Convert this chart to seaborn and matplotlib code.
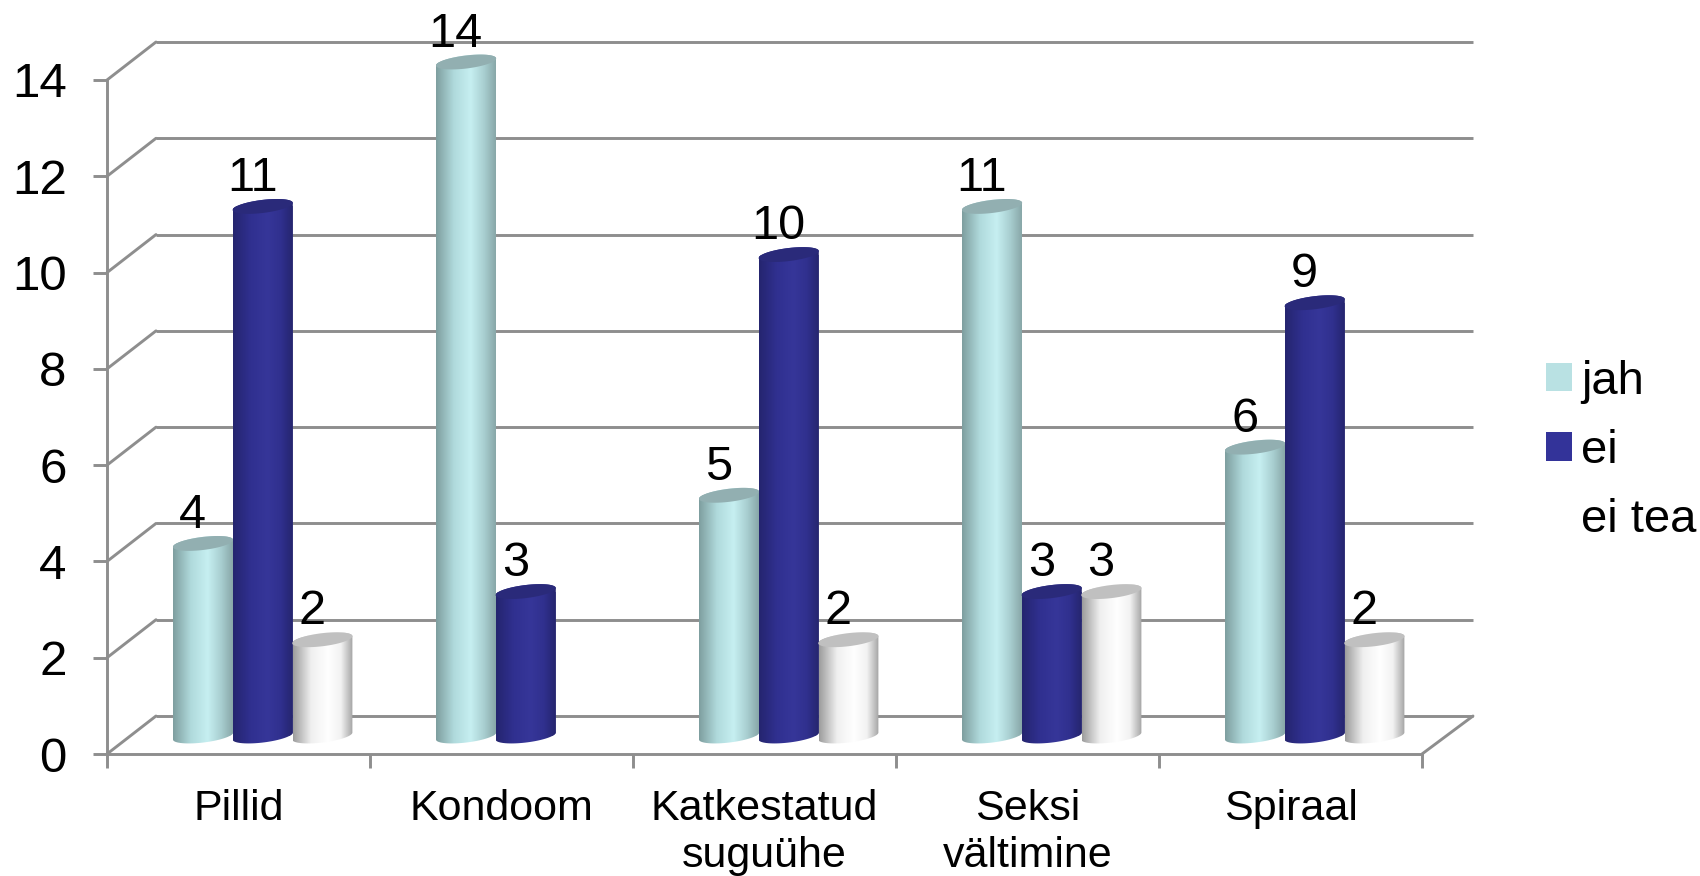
import numpy as np
import pandas as pd
import seaborn as sns
import matplotlib.pyplot as plt
from matplotlib.colors import LinearSegmentedColormap
from matplotlib.patches import Patch, Polygon
from matplotlib.path import Path
from matplotlib.transforms import IdentityTransform

# data
categories = ["Pillid", "Kondoom", "Katkestatud\nsuguühe", "Seksi\nvältimine", "Spiraal"]
series = ["jah", "ei", "ei tea"]
jah = [4, 14, 5, 11, 6]
ei = [11, 3, 10, 3, 9]
ei_tea = [2, np.nan, 2, 3, 2]
y_ticks = [0, 2, 4, 6, 8, 10, 12, 14]

# colours per series: edge, mid, light, top face
legend_colors = ["#B9E1E3", "#333399", "#FFFFFF"]
shades = [["#7E9E9F", "#B0DADC", "#C6EFF1", "#A9CFD1", "#88A7A8"],
          ["#25256F", "#303090", "#363699", "#30308E", "#25256E"],
          ["#9C9C9C", "#EFEFEF", "#FFFFFF", "#F2F2F2", "#A4A4A4"]]
top_colors = ["#92AFB1", "#2A2A7A", "#C0C0C0"]
grid_color = "#8E8E8E"

sns.set_theme(style="white")
plt.rcParams["font.family"] = ["Liberation Sans", "DejaVu Sans"]

df = pd.DataFrame({"cat": categories, "jah": jah, "ei": ei, "ei tea": ei_tea})
long_df = df.melt(id_vars="cat", var_name="vastus", value_name="arv")

fig = plt.figure(figsize=(17, 8.76), dpi=100)
# axes box in pixels: 107..1422 across, top of figure..754 down (images get cropped to the axes)
ax = fig.add_axes([107 / 1700, 1 - 754 / 876, 1315 / 1700, 754 / 876])

sns.barplot(data=long_df, x="cat", y="arv", hue="vastus", order=categories, hue_order=series,
            palette=legend_colors, width=0.68, gap=0, errorbar=None, legend=False, ax=ax,
            linewidth=0, zorder=3)

# 3D look: floor offset in value units, wall offset in category units
px_y = 674 / 14
front = -18 / px_y
back = 20 / px_y
shift = 49 / 263
xlim = (-0.592, 4.408)
ylim = (front, front + 754 / px_y)
ax.set_xlim(xlim)
ax.set_ylim(ylim)

# walls
grid_end = xlim[1] + 51 / 263
for v in y_ticks:
    ax.plot([xlim[0] + shift, grid_end], [v + back, v + back], color=grid_color, lw=2.1,
            clip_on=False, zorder=1, solid_capstyle="butt")
    ax.plot([xlim[0], xlim[0] + shift], [v + front, v + back], color=grid_color, lw=2.1,
            clip_on=False, zorder=1)
ax.plot([xlim[1], grid_end], [front, back], color=grid_color, lw=2.1, clip_on=False, zorder=1)

# axes
sns.despine(ax=ax)
for side in ["left", "bottom"]:
    ax.spines[side].set_color(grid_color)
    ax.spines[side].set_linewidth(2.1)
    ax.spines[side].set_zorder(2)
ax.spines["left"].set_bounds(front, front + 14)
ax.set_yticks([v + front for v in y_ticks])
ax.set_yticklabels([str(v) for v in y_ticks], fontsize=35.5, color="black")
ax.tick_params(axis="y", length=10, width=2.1, color=grid_color, pad=19, left=True)
ax.set_xticks([xlim[0] + k for k in range(6)])
ax.set_xticklabels([""] * 6)
ax.set_xticks([xlim[0] + k + 0.5 for k in range(5)], minor=True)
ax.set_xticklabels(categories, minor=True, fontsize=31, color="black", linespacing=1.2)
ax.tick_params(axis="x", which="major", length=10, width=2.1, color=grid_color, bottom=True)
ax.tick_params(axis="x", which="minor", length=0, pad=25.5, bottom=False)
ax.set_xlabel("")
ax.set_ylabel("")


def ellipse(cx, cy, a, b, t):
    tilt = np.deg2rad(7)
    return np.column_stack([cx + a * np.cos(t) * np.cos(tilt) - b * np.sin(t) * np.sin(tilt),
                            cy + a * np.cos(t) * np.sin(tilt) + b * np.sin(t) * np.cos(tilt)])


# turn each seaborn bar into a shaded cylinder
for container, shade, top_c in zip(ax.containers, shades, top_colors):
    cmap = LinearSegmentedColormap.from_list("cyl", list(zip([0, 0.3, 0.58, 0.8, 1], shade)))
    for bar in container:
        x0 = bar.get_x()
        x1 = x0 + bar.get_width()
        h = bar.get_height()
        (px0, py0), (px1, py1) = ax.transData.transform([(x0, 0), (x1, h)])
        cx = (px0 + px1) / 2
        a = (px1 - px0) / 2 + 0.5
        b = 6.5
        z = 3 + (x0 + 1) * 3
        upper = ellipse(cx, py1, a, b, np.linspace(np.pi, 0, 40))
        lower = ellipse(cx, py0, a, b, np.linspace(0, -np.pi, 40))
        body = Path(np.vstack([upper, lower, upper[:1]]), closed=True)

        bar.set_clip_path(body, IdentityTransform())
        bar.set_clip_box(None)
        im = ax.imshow(np.linspace(0, 1, 256)[None, :], cmap=cmap, aspect="auto", interpolation="bilinear",
                       extent=(x0, x1, -0.5, h + 0.5), zorder=z)
        im.set_clip_path(body, IdentityTransform())
        im.set_clip_box(None)
        cap = Polygon(ellipse(cx, py1, a, b, np.linspace(0, 2 * np.pi, 80)), closed=True, facecolor=top_c,
                      edgecolor="none", transform=IdentityTransform(), clip_on=False, zorder=z + 0.01)
        ax.add_patch(cap)
        ax.annotate(f"{h:.0f}", xy=((x0 + x1) / 2, h), xytext=(-7.5, 11), textcoords="offset points",
                    ha="center", va="baseline", fontsize=35, color="black", zorder=40, annotation_clip=False)
ax.set_xlim(xlim)
ax.set_ylim(ylim)

handles = [Patch(facecolor=c, edgecolor="none", label=s) for c, s in zip(legend_colors, series)]
fig.legend(handles=handles, loc="center left", bbox_to_anchor=(1546 / 1700, 1 - 451 / 876), frameon=False,
           fontsize=34, handlelength=0.55, handleheight=0.55, handletextpad=0.2, labelspacing=0.53,
           labelcolor="black", borderaxespad=0, borderpad=0)

fig.savefig("out.png", dpi=100)
